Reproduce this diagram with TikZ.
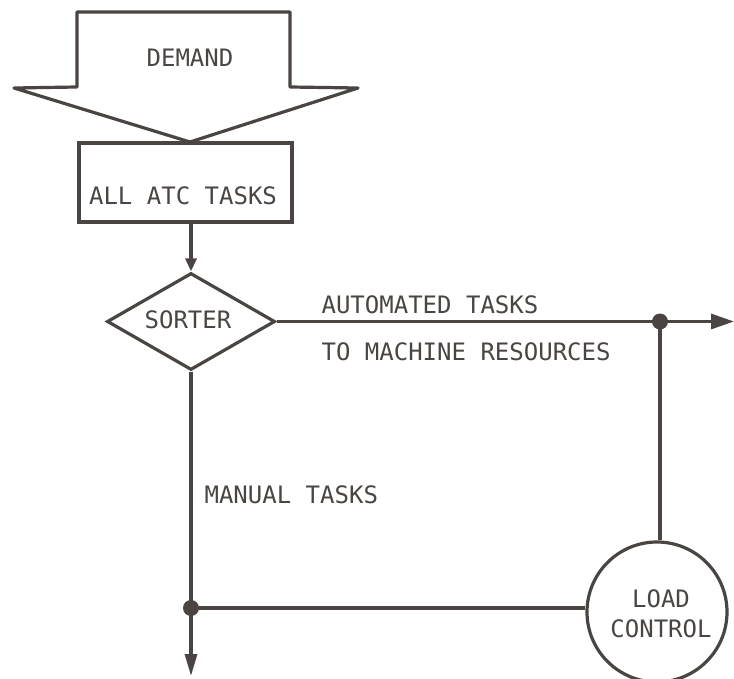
\documentclass[tikz,border=0pt]{standalone}
\usepackage{fontspec}
\newfontfamily\lettering{DejaVu Sans Mono}
\usetikzlibrary{shapes.geometric,arrows.meta}
\definecolor{ink}{HTML}{4A4542}
\begin{document}
\begin{tikzpicture}[x=1pt,y=-1pt,
  line width=3.2pt, draw=ink,
  every node/.style={text=ink, font=\lettering\fontsize{24}{28}\selectfont},
  txt/.style={inner sep=0pt, anchor=base},
  txtw/.style={inner sep=0pt, anchor=base west},
  taskbox/.style={draw=ink, line width=3.2pt, rectangle, minimum width=213pt, minimum height=79pt, inner sep=0pt},
  sortbox/.style={draw=ink, line width=3.2pt, diamond, minimum width=168pt, minimum height=97pt, inner sep=0pt},
  ctrlbox/.style={draw=ink, line width=3.2pt, circle, minimum size=140pt, inner sep=0pt},
  flow/.style={draw=ink, line width=3.2pt},
  junction/.style={circle, fill=ink, inner sep=0pt, minimum size=16pt},
]
\useasboundingbox (0,0) rectangle (734,679);

% demand arrow
\draw[ink, line width=3.2pt, line join=round]
  (77,12) -- (290,12) -- (290,87) -- (358,88) -- (190,142) -- (14,88) -- (77,87) -- cycle;
\node[txt] (demand) at (190,67) {DEMAND};

% task pool
\node[taskbox] (tasks) at (185.5,182.5) {};
\node[txt] (taskstext) at (183,205) {ALL ATC TASKS};

% sorter
\node[sortbox] (sorter) at (191,321.5) {};
\node[txt] (sortertext) at (188,328) {SORTER};
\draw[flow, -{Triangle[length=13pt,width=11pt]}] (tasks.south -| sorter.north) -- (sorter.north);

% automated branch
\coordinate (j1) at (660,321.5);
\coordinate (out) at (734,321.5);
\draw[flow, -{Triangle[length=23pt,width=15pt]}] (sorter.east) -- (out);
\node[txtw] (auto) at (320,313) {AUTOMATED TASKS};
\node[txtw] (machine) at (320,360) {TO MACHINE RESOURCES};

% load control
\node[ctrlbox] (load) at (657,612) {};
\node[txt] (loadtext) at (661,607) {LOAD};
\node[txt] (ctrltext) at (661,637) {CONTROL};
\draw[flow] (j1) -- (j1 |- load.north);
\node[junction] (dot1) at (j1) {};

% manual branch
\coordinate (j2) at (191,608);
\coordinate (down) at (191,676);
\draw[flow, -{Triangle[length=22pt,width=12pt]}] (sorter.south) -- (down);
\draw[flow] (j2) -- (j2 -| load.west);
\node[junction] (dot2) at (j2) {};
\node[txtw] (manual) at (203,503) {MANUAL TASKS};
\end{tikzpicture}
\end{document}
